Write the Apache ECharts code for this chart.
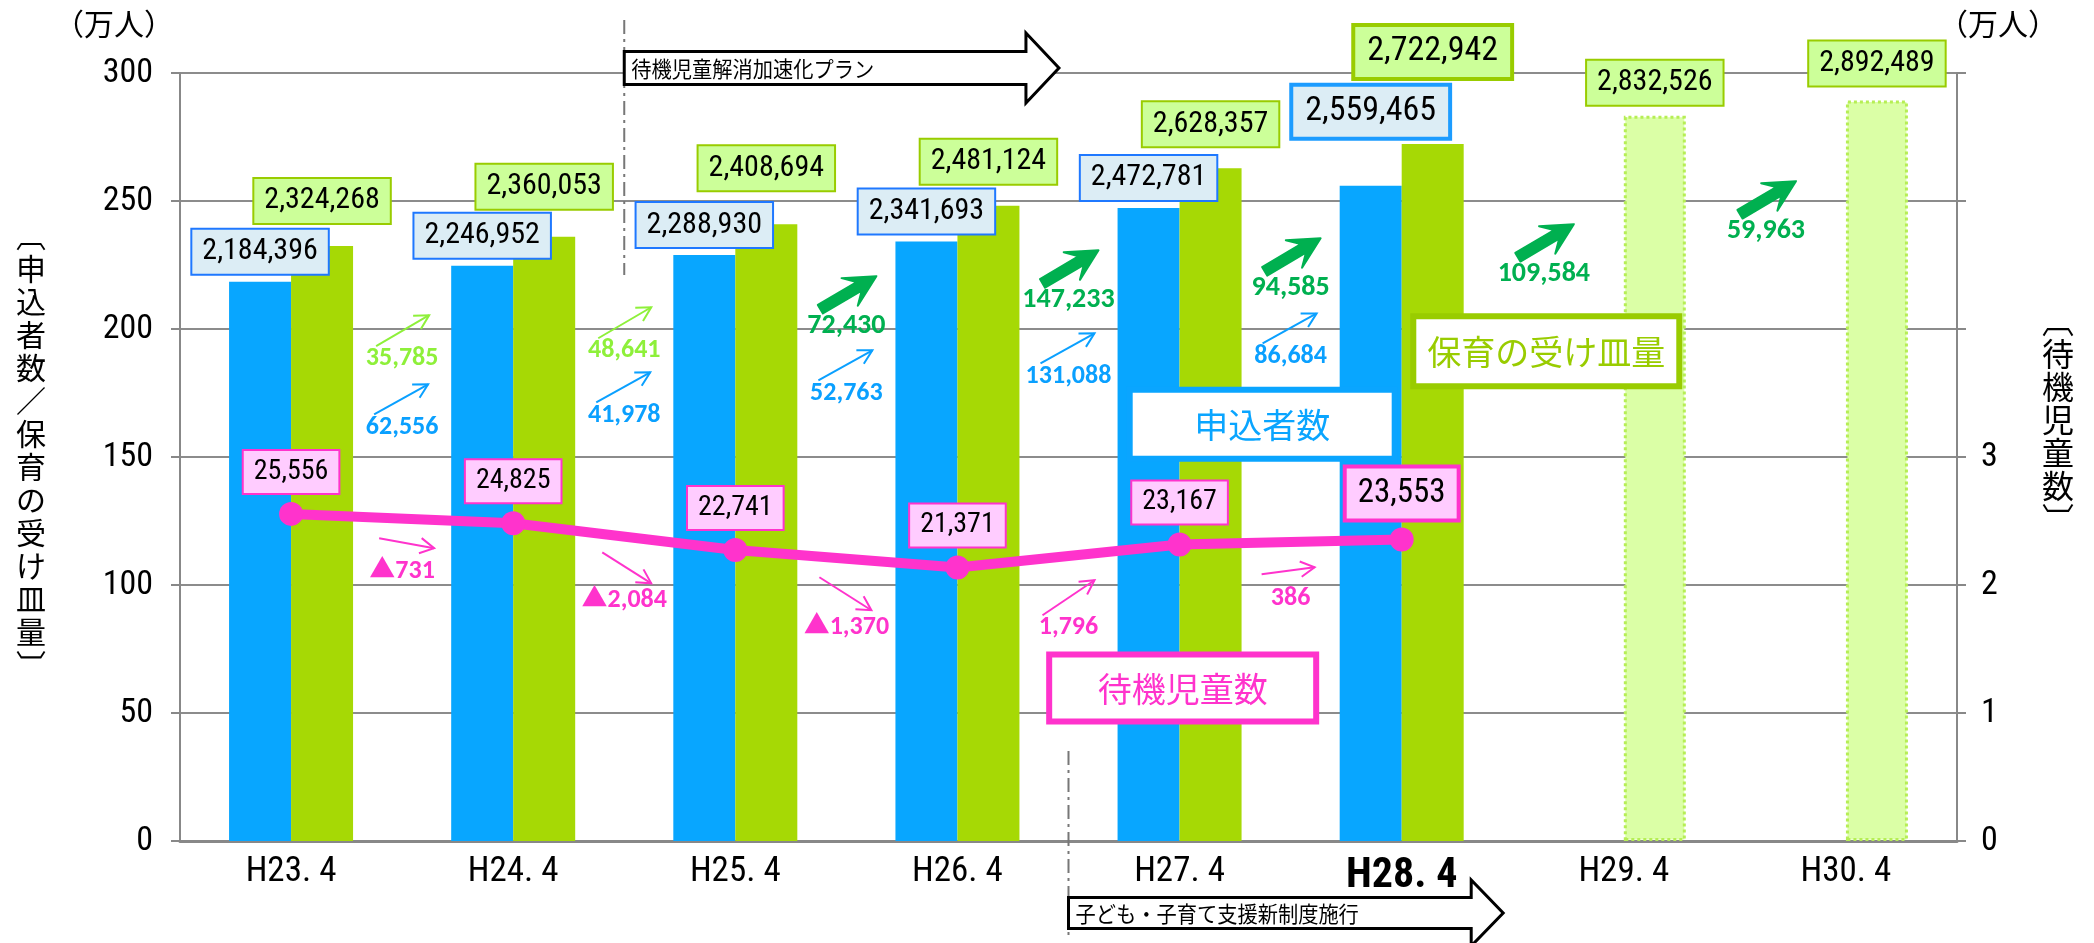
<!DOCTYPE html>
<html>
<head>
<meta charset="UTF-8">
<title>申込者数・保育の受け皿量・待機児童数</title>
<script src="https://cdn.jsdelivr.net/npm/echarts@6/dist/echarts.min.js"></script>
<style>
html, body { margin: 0; padding: 0; background: #fff; }
#main { width: 2094px; height: 943px; }
</style>
</head>
<body>
<div id="main"></div>
<script>
// 年度（各年4月）
var years = ['H23. 4', 'H24. 4', 'H25. 4', 'H26. 4', 'H27. 4', 'H28. 4', 'H29. 4', 'H30. 4'];
// 申込者数（人）
var applicants = [2184396, 2246952, 2288930, 2341693, 2472781, 2559465, null, null];
// 保育の受け皿量（人）H29・H30は見込み
var capacity = [2324268, 2360053, 2408694, 2481124, 2628357, 2722942, 2832526, 2892489];
// 待機児童数（人）
var waiting = [25556, 24825, 22741, 21371, 23167, 23553];
// 右軸に表示する目盛（万人）
var rightLabels = [0, 1, 2, 3];

var planFrom = 6;   // 見込みの棒
var focusIdx = 5;   // H28 を強調

var NUM = "'Roboto Condensed', 'Noto Sans CJK JP', sans-serif";
var JP = "'Noto Sans CJK JP', sans-serif";
var BOLD = "Carlito, Lato, 'Noto Sans CJK JP', sans-serif";

var BLUE = '#08a6ff', GREEN = '#a6d905', PINK = '#ff33cc';

function comma(n) { return String(n).replace(/\B(?=(\d{3})+(?!\d))/g, ','); }
function man(v) { return v == null ? null : v / 10000; }

// ラベル箱と棒の間隔
var blueGap = [8, 8, 8, 8, 8, 49];
var greenGap = [23, 28, 34, 22, 22, 67, 11, 15];

var blueData = applicants.map(function (v, i) {
  var big = i === focusIdx;
  return {
    value: man(v),
    label: {
      distance: blueGap[i],
      fontSize: big ? 34 : 30, lineHeight: big ? 34 : 30,
      borderWidth: big ? 4 : 2,
      borderColor: big ? '#1c9cff' : '#1f78ff',
      padding: big ? [8, 12] : [7, 10]
    }
  };
});

var greenData = capacity.map(function (v, i) {
  var big = i === focusIdx;
  var d = {
    value: man(v),
    label: {
      distance: greenGap[i],
      fontSize: big ? 34 : 30, lineHeight: big ? 34 : 30,
      borderWidth: big ? 4 : 2,
      padding: big ? [8, 12] : [7, 10]
    }
  };
  if (i >= planFrom) {
    d.itemStyle = { color: '#dbffa6', borderColor: '#b6ee55', borderWidth: 3, borderType: 'dotted' };
  }
  return d;
});

var waitData = waiting.map(function (v, i) {
  var big = i === focusIdx;
  return {
    value: man(v),
    label: {
      fontSize: big ? 33 : 28, lineHeight: big ? 34 : 28,
      borderWidth: big ? 4 : 2,
      padding: big ? [8, 11] : [7, 10]
    }
  };
});

var chart = echarts.init(document.getElementById('main'));

var option = {
  animation: false,
  grid: { left: 180, right: 137, top: 73, bottom: 102 },
  xAxis: {
    type: 'category',
    data: years,
    axisLine: { lineStyle: { color: '#888', width: 3 } },
    axisTick: { length: 9, lineStyle: { color: '#888', width: 2 } },
    axisLabel: {
      margin: 14, color: '#000', fontSize: 35, fontFamily: NUM,
      formatter: function (v, i) { return i === focusIdx ? '{b|' + v + '}' : v; },
      rich: { b: { fontSize: 42, fontWeight: 'bold', fontFamily: NUM, color: '#000' } }
    }
  },
  yAxis: [{
    type: 'value', min: 0, max: 300, interval: 50,
    axisLine: { show: true, lineStyle: { color: '#888', width: 2 } },
    axisTick: { show: true, length: 9, lineStyle: { color: '#888', width: 2 } },
    axisLabel: { margin: 27, color: '#000', fontSize: 34, fontFamily: NUM },
    splitLine: { lineStyle: { color: '#8c8c8c', width: 2 } }
  }, {
    type: 'value', min: 0, max: 6, interval: 1, position: 'right',
    axisLine: { show: true, lineStyle: { color: '#888', width: 2 } },
    axisTick: { show: true, length: 9, lineStyle: { color: '#888', width: 2 } },
    axisLabel: {
      margin: 24, color: '#000', fontSize: 34, fontFamily: NUM,
      formatter: function (v) { return rightLabels.indexOf(v) >= 0 ? String(v) : ''; }
    },
    splitLine: { show: false }
  }],
  series: [{
    name: '申込者数', type: 'bar', barWidth: 62, barGap: '0%',
    data: blueData,
    itemStyle: { color: BLUE },
    label: {
      show: true, position: 'top', color: '#000', fontFamily: NUM,
      backgroundColor: '#dcedf5', borderColor: '#1f78ff',
      formatter: function (p) { return comma(applicants[p.dataIndex]); }
    },
    z: 2
  }, {
    name: '保育の受け皿量', type: 'bar', barWidth: 62,
    data: greenData,
    itemStyle: { color: GREEN },
    label: {
      show: true, position: 'top', color: '#000', fontFamily: NUM,
      backgroundColor: '#ccff99', borderColor: '#99cc00',
      formatter: function (p) { return comma(capacity[p.dataIndex]); }
    },
    z: 2
  }, {
    name: '待機児童数', type: 'line', yAxisIndex: 1,
    data: waitData,
    symbol: 'circle', symbolSize: 24,
    lineStyle: { color: PINK, width: 10 },
    itemStyle: { color: PINK },
    label: {
      show: true, position: 'top', distance: 9, color: '#000', fontFamily: NUM,
      backgroundColor: '#ffccff', borderColor: PINK,
      formatter: function (p) { return comma(waiting[p.dataIndex]); }
    },
    z: 5
  }]
};

chart.setOption(option);

// ---- 注記（増減の矢印・凡例の箱・施策の矢印） ----
function xAt(f) {
  var i = Math.floor(f);
  var a = chart.convertToPixel({ xAxisIndex: 0 }, i);
  var b = chart.convertToPixel({ xAxisIndex: 0 }, i + 1);
  return a + (b - a) * (f - i);
}
function yAt(v) { return chart.convertToPixel({ yAxisIndex: 0 }, v); }

function thinArrow(x, y, s, e, color) {
  var x1 = x + s[0], y1 = y + s[1], x2 = x + e[0], y2 = y + e[1];
  var ang = Math.atan2(y2 - y1, x2 - x1), h = 16, sp = 0.5;
  return [
    { type: 'line', shape: { x1: x1, y1: y1, x2: x2, y2: y2 }, style: { stroke: color, lineWidth: 2 }, z: 40 },
    { type: 'polyline', shape: { points: [
      [x2 - h * Math.cos(ang - sp), y2 - h * Math.sin(ang - sp)], [x2, y2],
      [x2 - h * Math.cos(ang + sp), y2 - h * Math.sin(ang + sp)]] },
      style: { stroke: color, lineWidth: 2 }, z: 40 }
  ];
}

function thickArrow(x, y, s, e, color) {
  var x1 = x + s[0], y1 = y + s[1], x2 = x + e[0], y2 = y + e[1];
  var dx = x2 - x1, dy = y2 - y1, len = Math.sqrt(dx * dx + dy * dy);
  var ux = dx / len, uy = dy / len, nx = -uy, ny = ux;
  var w = 5, W = 16, L = 31, k = 20;
  function p(a, b) { return [x1 + ux * a + nx * b, y1 + uy * a + ny * b]; }
  return [{
    type: 'polygon',
    shape: { points: [p(0, w), p(len - k, w), p(len - L, W), p(len, 0), p(len - L, -W), p(len - k, -w), p(0, -w)] },
    style: { fill: color, stroke: color, lineWidth: 2, lineJoin: 'round' }, z: 40
  }];
}

function diffText(x, y, txt, color, size) {
  return { type: 'text', x: x, y: y, z: 41,
    style: { text: txt, fill: color, font: 'bold ' + size + 'px ' + BOLD, textAlign: 'center', textVerticalAlign: 'middle' } };
}

function tagBox(cx, cy, w, h, label, color) {
  return [
    { type: 'rect', shape: { x: cx - w / 2, y: cy - h / 2, width: w, height: h }, style: { fill: '#fff', stroke: color, lineWidth: 6 }, z: 50 },
    { type: 'text', x: cx, y: cy + 1, z: 51, style: { text: label, fill: color, font: '34px ' + JP, textAlign: 'center', textVerticalAlign: 'middle' } }
  ];
}

function planArrow(x0, xt, cy, hs, hh, hl, label) {
  var xb = xt - hl;
  return [
    { type: 'polygon', shape: { points: [[x0, cy - hs], [xb, cy - hs], [xb, cy - hh], [xt, cy], [xb, cy + hh], [xb, cy + hs], [x0, cy + hs]] },
      style: { fill: '#fff', stroke: '#000', lineWidth: 3 }, z: 60 },
    { type: 'text', x: x0 + 7, y: cy + 1, scaleX: 0.92, z: 61,
      style: { text: label, font: '22px ' + JP, fill: '#000', textVerticalAlign: 'middle' } }
  ];
}

// 増減の注記の位置（カテゴリ位置, 左軸の値）
var capDiffPos = [[0.5, 188.6], [1.5, 191.7], [2.5, 201.1], [3.5, 211.2], [4.5, 215.9], [5.64, 221.4], [6.64, 238.2]];
var appDiffPos = [[0.5, 161.6], [1.5, 166.3], [2.5, 174.9], [3.5, 181.5], [4.5, 189.3]];
var waitDiffPos = [[0.5, 105.4], [1.5, 94.0], [2.5, 83.5], [3.5, 83.5], [4.5, 94.8]];
var waitArrow = [[[-23, -33], [32, -23]], [[-22, -48], [27, -17]], [[-27, -50], [25, -17]], [[-26, -12], [26, -47]], [[-29, -24], [24, -31]]];

var g = [];

capDiffPos.forEach(function (q, i) {
  var x = xAt(q[0]), y = yAt(q[1]);
  var d = capacity[i + 1] - capacity[i];
  if (i < 2) {
    g = g.concat(thinArrow(x, y, [-26, -12], [27, -43], '#8ef03a'));
    g.push(diffText(x, y, comma(d), '#8ef03a', 26));
  } else {
    g = g.concat(thickArrow(x, y, [-26, -17], [30, -50], '#00b050'));
    g.push(diffText(x, y, comma(d), '#00b050', 28));
  }
});

appDiffPos.forEach(function (q, i) {
  var x = xAt(q[0]), y = yAt(q[1]);
  var d = applicants[i + 1] - applicants[i];
  g = g.concat(thinArrow(x, y, [-28, -13], [26, -43], '#0aa0ff'));
  g.push(diffText(x, y, comma(d), '#0aa0ff', 26));
});

waitDiffPos.forEach(function (q, i) {
  var x = xAt(q[0]), y = yAt(q[1]);
  var d = waiting[i + 1] - waiting[i];
  g = g.concat(thinArrow(x, y, waitArrow[i][0], waitArrow[i][1], PINK));
  g.push(diffText(x, y, (d < 0 ? '▲' : '') + comma(Math.abs(d)), PINK, 26));
});

// 凡例の箱
g = g.concat(tagBox(xAt(4.372), yAt(162.8), 265, 69, '申込者数', '#0aa5ff'));
g = g.concat(tagBox(xAt(5.651), yAt(191.3), 266, 70, '保育の受け皿量', '#99cc00'));
g = g.concat(tagBox(xAt(4.014), yAt(59.8), 267, 67, '待機児童数', PINK));

// 施策の区切り線と矢印
var plotTop = yAt(300), plotBase = yAt(0);
g.push({ type: 'line', shape: { x1: xAt(1.5), y1: 20, x2: xAt(1.5), y2: 275 },
  style: { stroke: '#777', lineWidth: 2, lineDash: [14, 5, 3, 5] }, z: 30 });
g.push({ type: 'line', shape: { x1: xAt(3.5), y1: plotBase - 90, x2: xAt(3.5), y2: 940 },
  style: { stroke: '#777', lineWidth: 2, lineDash: [14, 5, 3, 5] }, z: 30 });
g = g.concat(planArrow(xAt(1.5), xAt(3.457), plotTop - 5, 16.5, 35, 33, '待機児童解消加速化プラン'));
g = g.concat(planArrow(xAt(3.5), xAt(5.457), plotBase + 72, 15.5, 33, 32, '子ども・子育て支援新制度施行'));

// 軸のタイトル
g.push({ type: 'text', x: 114, y: 24, style: { text: '（万人）', font: '30px ' + JP, fill: '#000', textAlign: 'center', textVerticalAlign: 'middle' } });
g.push({ type: 'text', x: 1998, y: 24, style: { text: '（万人）', font: '30px ' + JP, fill: '#000', textAlign: 'center', textVerticalAlign: 'middle' } });
g.push({ type: 'text', x: 31, y: 450, style: { text: '︹申込者数／保育の受け皿量︺'.split('').join('\n'), font: '30px ' + JP, lineHeight: 33, fill: '#000', textAlign: 'center', textVerticalAlign: 'middle' } });
g.push({ type: 'text', x: 2058, y: 420, style: { text: '︹待機児童数︺'.split('').join('\n'), font: '32px ' + JP, lineHeight: 33, fill: '#000', textAlign: 'center', textVerticalAlign: 'middle' } });

chart.setOption({ graphic: g });
</script>
</body>
</html>
